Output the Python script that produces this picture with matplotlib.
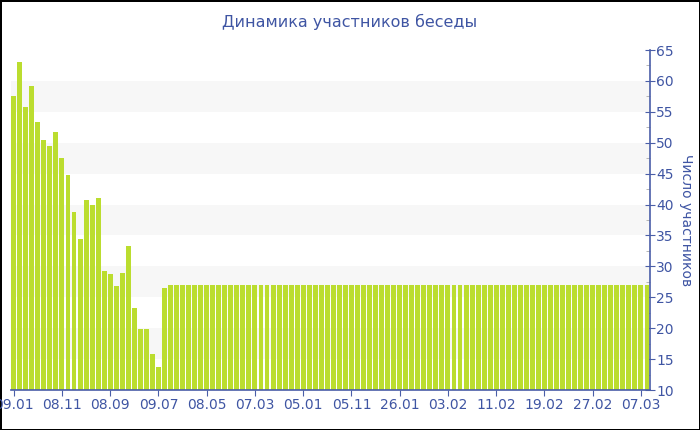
import matplotlib
matplotlib.use('Agg')
import matplotlib.pyplot as plt
import numpy as np

# значения столбцов (число участников)
head_values = [57.5, 63.1, 55.7, 59.2, 53.4, 50.5, 49.5, 51.7, 47.6, 44.7,
               38.8, 34.4, 40.7, 39.9, 41.0, 29.3, 28.8, 26.8, 28.9, 33.3,
               23.3, 19.8, 19.9, 15.9, 13.8, 26.5]
tail_values = [27, 27, 27, 27, 27, 27, 27, 27, 27, 27,
               27, 27, 27, 27, 27, 27, 27, 27, 27, 27,
               27, 27, 27, 27, 27, 27, 27, 27, 27, 27,
               27, 27, 27, 27, 27, 27, 27, 27, 27, 27,
               27, 27, 27, 27, 27, 27, 27, 27, 27, 27,
               27, 27, 27, 27, 27, 27, 27, 27, 27, 27,
               27, 27, 27, 27, 27, 27, 27, 27, 27, 27,
               27, 27, 27, 27, 27, 27, 27, 27, 27, 27]
values = head_values + tail_values

tick_labels = ['09.01', '08.11', '08.09', '09.07', '08.05', '07.03', '05.01',
               '05.11', '26.01', '03.02', '11.02', '19.02', '27.02', '07.03']
tick_step = 8

text_color = '#3f55a3'
axis_color = '#4a5ea8'
bar_color = '#bbdd2f'

fig = plt.figure(figsize=(7, 4.3), dpi=100)
fig.patch.set_edgecolor('black')
fig.patch.set_linewidth(2)
ax = fig.add_axes([11 / 700, 1 - 390 / 430, 639 / 700, 340 / 430])

x = np.arange(len(values))
# полосы фона
for lo in [15, 25, 35, 45, 55]:
    ax.axhspan(lo, lo + 5, color='#f7f7f7', zorder=0, lw=0)
ax.bar(x, values, width=0.82, color=bar_color, zorder=2)

ax.set_xlim(-0.45, len(values) - 0.5)
ax.set_ylim(10, 65)

ax.set_xticks(x[::tick_step])
ax.set_xticklabels(tick_labels)
ax.yaxis.tick_right()
ax.yaxis.set_label_position('right')
ax.set_yticks(np.arange(10, 66, 5))
ax.set_yticks(np.arange(12.5, 65, 5), minor=True)

for s in ['top', 'left']:
    ax.spines[s].set_visible(False)
for s in ['bottom', 'right']:
    ax.spines[s].set_color(axis_color)
    ax.spines[s].set_linewidth(1.2)

ax.tick_params(axis='x', colors=axis_color, labelcolor=text_color, labelsize=10,
               length=4, pad=2)
ax.tick_params(axis='y', which='major', colors=axis_color, labelcolor=text_color,
               labelsize=10, direction='inout', length=7, pad=1)
ax.tick_params(axis='y', which='minor', colors='#aaaaaa', direction='in', length=3)

ax.set_ylabel('Число участников', rotation=270, color=text_color, fontsize=10,
              labelpad=14)
fig.text(0.5, 1 - 22 / 430, 'Динамика участников беседы', ha='center', va='center',
         color=text_color, fontsize=11.5)

fig.savefig('out.png', dpi=100, edgecolor=fig.get_edgecolor())
